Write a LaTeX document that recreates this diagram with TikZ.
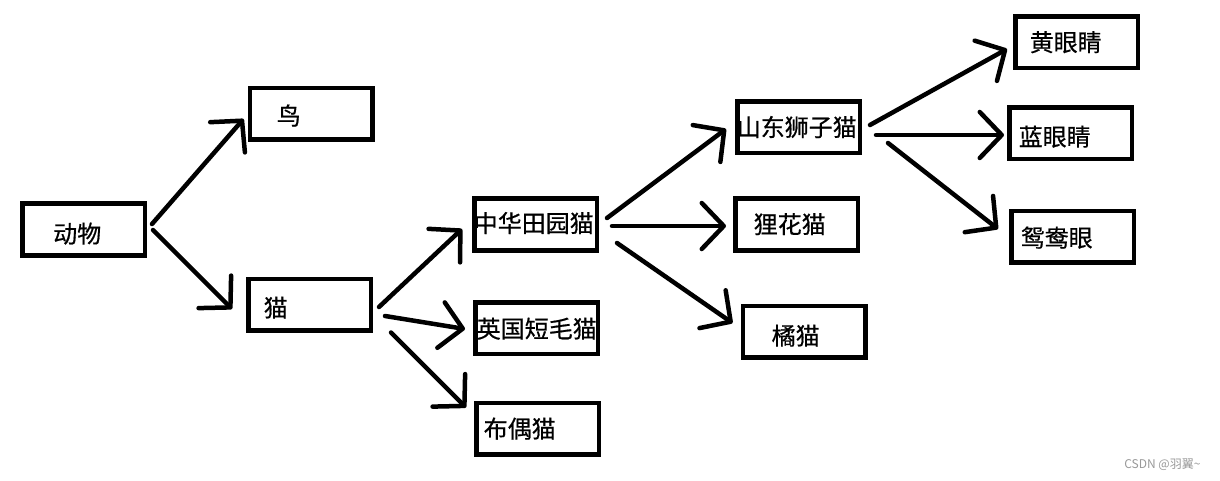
\documentclass[tikz,border=0pt]{standalone}
\usepackage{fontspec}
\setmainfont{Noto Sans CJK SC}
\newfontfamily\boxfont{Noto Sans CJK SC}[FakeBold=0.6]
\usetikzlibrary{arrows.meta}
\newcommand\boxtxt[3]{\hspace*{#1}\raisebox{#2}{#3}}
\tikzset{
  box/.style={draw, line width=4.5pt, minimum width=122.5pt, minimum height=51.5pt,
    inner xsep=0pt, inner ysep=0pt, text width=122.5pt, align=left,
    text height=20.5pt, text depth=3pt,
    font=\boxfont\fontsize{24pt}{28pt}\selectfont},
  arr/.style={line width=4.5pt, line cap=round, line join=round,
    -{Straight Barb[length=22pt, width=46pt, round]}},
}
\begin{document}
\begin{tikzpicture}[x=1pt, y=-1pt]
\useasboundingbox (0,0) rectangle (1220,481);
\fill[white] (0,0) rectangle (1220,481);

\node[box] (animal) at (83.5,229.5) {\boxtxt{31pt}{-4.5pt}{动物}};
\node[box] (bird)   at (311,114)    {\boxtxt{27pt}{-2pt}{鸟}};
\node[box] (cat)    at (309.5,304.5){\boxtxt{15.5pt}{-3.5pt}{猫}};
\node[box] (zh)     at (535.5,224.5){\boxtxt{-0.5pt}{1pt}{中华田园猫}};
\node[box] (uk)     at (536.5,328)  {\boxtxt{1.5pt}{-1pt}{英国短毛猫}};
\node[box] (rag)    at (537.5,428.5){\boxtxt{7.5pt}{-0.5pt}{布偶猫}};
\node[box] (sd)     at (798.5,127.5){\boxtxt{-0.5pt}{0pt}{山东狮子猫}};
\node[box] (lh)     at (796.5,224.5){\boxtxt{18.5pt}{0pt}{狸花猫}};
\node[box] (ju)     at (804,331.5)  {\boxtxt{29pt}{-4.5pt}{橘猫}};
\node[box] (ye)     at (1076.5,42.5){\boxtxt{14.5pt}{0pt}{黄眼睛}};
\node[box] (bl)     at (1070.5,133.5){\boxtxt{9.5pt}{-3.5pt}{蓝眼睛}};
\node[box] (yy)     at (1072.5,236.5){\boxtxt{9.5pt}{-1.5pt}{鸳鸯眼}};

\draw[arr] ([shift={(5,-5.5)}]animal.east) -- ([shift={(-4,5)}]bird.west);
\draw[arr] ([shift={(6,0.5)}]animal.east) -- ([shift={(-14,4.5)}]cat.west);
\draw[arr] ([shift={(6,2.5)}]cat.east) -- ([shift={(-10,4.5)}]zh.west);
\draw[arr] ([shift={(12,11.5)}]cat.east) -- ([shift={(-8,1)}]uk.west);
\draw[arr] ([shift={(18,0)}]cat.south east) -- ([shift={(-8,7)}]rag.north west);
\draw[arr] ([shift={(8,-6.5)}]zh.east) -- ([shift={(-9,1.5)}]sd.west);
\draw[arr] ([shift={(13,1.5)}]zh.east) -- ([shift={(-7,1.5)}]lh.west);
\draw[arr] ([shift={(18,18.5)}]zh.east) -- ([shift={(-8,-8.5)}]ju.west);
\draw[arr] ([shift={(8,-2.5)}]sd.east) -- ([shift={(-6,6.5)}]ye.west);
\draw[arr] ([shift={(14,7.5)}]sd.east) -- ([shift={(-3,1.5)}]bl.west);
\draw[arr] ([shift={(26,15.5)}]sd.east) -- ([shift={(-11,-7.5)}]yy.west);

\node[text=black!40, font=\fontsize{12pt}{14pt}\selectfont, anchor=east] (wm) at (1204,465) {CSDN @羽翼\textasciitilde};
\end{tikzpicture}
\end{document}
